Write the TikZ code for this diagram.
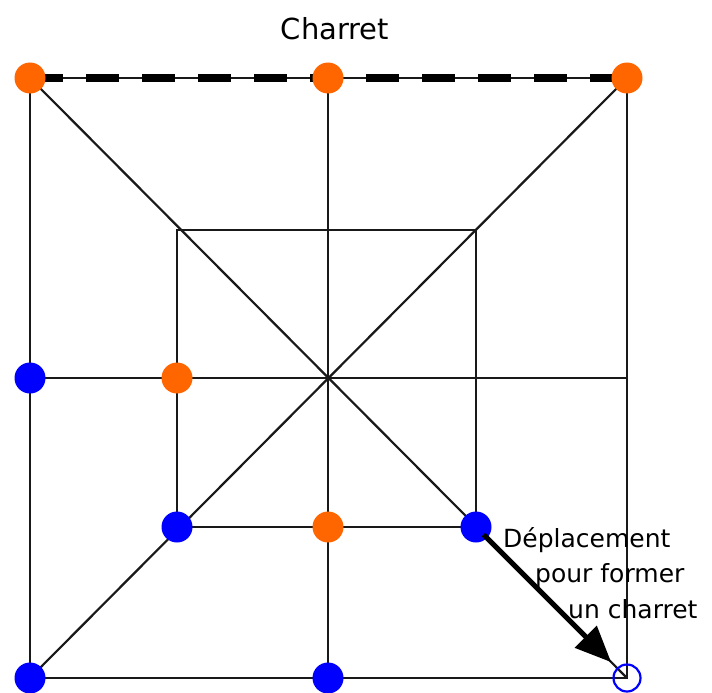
\documentclass[tikz,border=0pt]{standalone}
\usepackage{fontspec}
\setmainfont{DejaVu Sans}
\usetikzlibrary{arrows.meta,calc}
\definecolor{pionorange}{HTML}{FF6600}
\definecolor{pionbleu}{HTML}{0000FF}
\begin{document}
\begin{tikzpicture}[x=1pt,y=-1pt,
  grid/.style={draw=black!90,line width=2.2pt},
  ligne/.style={draw=black,line width=8.5pt,dash pattern=on 33pt off 23pt},
  orange/.style={circle,fill=pionorange,minimum size=31pt,inner sep=0pt},
  bleu/.style={circle,fill=pionbleu,minimum size=31pt,inner sep=0pt},
  vide/.style={circle,draw=pionbleu,line width=2.2pt,minimum size=27pt,inner sep=0pt},
  legende/.style={font=\fontsize{25}{30}\selectfont,anchor=base west,inner sep=0pt},
  coup/.style={line width=5pt,-{Triangle[length=36pt,width=30pt]}}]
\useasboundingbox (0,0) rectangle (712,693);
% board points
\coordinate (a1) at (30,678);  \coordinate (a4) at (30,378);  \coordinate (a7) at (30,78);
\coordinate (d1) at (328,678); \coordinate (d7) at (328,78);
\coordinate (g1) at (627,678); \coordinate (g4) at (627,378); \coordinate (g7) at (627,78);
\coordinate (b2) at (177,527); \coordinate (b4) at (177,378); \coordinate (b6) at (177,230);
\coordinate (d2) at (328,527);
\coordinate (f2) at (476,527); \coordinate (f6) at (476,230);
\coordinate (c) at (328,378);
% board lines
\draw[grid] (a7) -- (a1) -- (g1) -- (g7) -- (a7);
\draw[grid] (b6) rectangle (f2);
\draw[grid] (a4) -- (g4);
\draw[grid] (d7) -- (d1);
\draw[grid] (a7) -- (g1);
\draw[grid] (g7) -- (a1);
% the aligned row
\draw[ligne] (a7) -- (g7);
% pieces
\node[orange] (p1) at (a7) {};
\node[orange] (p2) at (d7) {};
\node[orange] (p3) at (g7) {};
\node[orange] (p4) at (b4) {};
\node[orange] (p5) at (d2) {};
\node[bleu] (q1) at (a4) {};
\node[bleu] (q2) at (b2) {};
\node[bleu] (q3) at (f2) {};
\node[bleu] (q4) at (a1) {};
\node[bleu] (q5) at (d1) {};
\node[vide] (cible) at (g1) {};
% move
\draw[coup] ($(q3.center)!0.05!(cible.center)$) -- ($(q3.center)!0.895!(cible.center)$);
% labels
\node[font=\fontsize{29}{33}\selectfont,anchor=base,inner sep=0pt] (titre) at (335,40) {Charret};
\node[legende] (l1) at (503,547) {Déplacement};
\node[legende] (l2) at (535,582) {pour former};
\node[legende] (l3) at (568,618) {un charret};
\end{tikzpicture}
\end{document}
